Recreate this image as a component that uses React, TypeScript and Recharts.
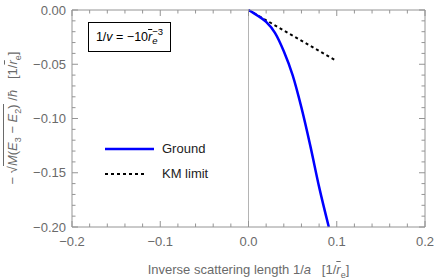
import React from "react";
import { LineChart, Line, XAxis, YAxis, ReferenceLine, Legend } from "recharts";

// Ground-state curve
const groundX = [0, 0.005, 0.01, 0.02, 0.03, 0.04, 0.05, 0.06, 0.07, 0.08, 0.091];
const groundY = [0, -0.0024, -0.005, -0.011, -0.021, -0.038, -0.06, -0.09, -0.125, -0.163, -0.2];

// KM limit (straight line)
const kmX = [0, 0.1];
const kmY = [0, -0.047];

const xMajorTicks = [-0.2, -0.1, 0, 0.1, 0.2];
const xTickLabels = ["−0.2", "−0.1", "0.0", "0.1", "0.2"];
const xMinorTicks = [
  -0.18, -0.16, -0.14, -0.12, -0.08, -0.06, -0.04, -0.02, 0.02, 0.04, 0.06, 0.08, 0.12, 0.14, 0.16, 0.18,
];

const yMajorTicks = [0, -0.05, -0.1, -0.15, -0.2];
const yTickLabels = ["0.00", "−0.05", "−0.10", "−0.15", "−0.20"];
const yMinorTicks = [
  -0.01, -0.02, -0.03, -0.04, -0.06, -0.07, -0.08, -0.09, -0.11, -0.12, -0.13, -0.14, -0.16, -0.17, -0.18, -0.19,
];

const seriesNames = ["Ground", "KM limit"];

const groundData = groundX.map((x, i) => ({ x, y: groundY[i] }));
const kmData = kmX.map((x, i) => ({ x, y: kmY[i] }));

const W = 436;
const H = 280;
// top/right axes take 1px each, so the plot spans 72..425 x 10..227
const margin = { top: 9, right: 10, left: 0, bottom: 0 };
const plotTop = 10;
const plotRight = 425;

const frameColor = "#949494";
const labelColor = "#6a6a6a";
const fontFamily = "'Liberation Sans', Arial, sans-serif";
const MAJOR = 6;
const MINOR = 3.5;

const allX = [...xMajorTicks, ...xMinorTicks].sort((a, b) => a - b);
const allY = [...yMajorTicks, ...yMinorTicks].sort((a, b) => a - b);

function majorIndex(list: number[], v: number) {
  return list.findIndex((t) => Math.abs(t - v) < 1e-9);
}

// bottom ticks (inward) + matching ticks on the top frame edge
function BottomTick(props: any) {
  const { x, y, payload } = props;
  const i = majorIndex(xMajorTicks, payload.value);
  const len = i >= 0 ? MAJOR : MINOR;
  return (
    <g>
      <line x1={x} x2={x} y1={y} y2={y - len} stroke={frameColor} strokeWidth={1} />
      <line x1={x} x2={x} y1={plotTop} y2={plotTop + len} stroke={frameColor} strokeWidth={1} />
      {i >= 0 && (
        <text x={x} y={y + 19} textAnchor="middle" fill={labelColor} fontSize={13} fontFamily={fontFamily}>
          {xTickLabels[i]}
        </text>
      )}
    </g>
  );
}

// left ticks (inward) + matching ticks on the right frame edge
function LeftTick(props: any) {
  const { x, y, payload } = props;
  const i = majorIndex(yMajorTicks, payload.value);
  const len = i >= 0 ? MAJOR : MINOR;
  return (
    <g>
      <line x1={x} x2={x + len} y1={y} y2={y} stroke={frameColor} strokeWidth={1} />
      <line x1={plotRight} x2={plotRight - len} y1={y} y2={y} stroke={frameColor} strokeWidth={1} />
      {i >= 0 && (
        <text x={x - 6} y={y} dy="0.36em" textAnchor="end" fill={labelColor} fontSize={13} fontFamily={fontFamily}>
          {yTickLabels[i]}
        </text>
      )}
    </g>
  );
}

const legendStyle: Record<string, { color: string; dash?: string; len: number; w: number }> = {
  Ground: { color: "#0000ff", len: 49, w: 2.5 },
  "KM limit": { color: "#000000", dash: "3 3", len: 42, w: 2 },
};

function renderLegend(props: any) {
  const items: any[] = props.payload ?? [];
  return (
    <div style={{ fontFamily, fontSize: 13, color: "#222" }}>
      {items.map((entry) => {
        const s = legendStyle[entry.value] ?? legendStyle.Ground;
        return (
          <div key={entry.value} style={{ display: "flex", alignItems: "center", height: 25 }}>
            <svg width={57} height={10}>
              <line x1={0} x2={s.len} y1={5} y2={5} stroke={s.color} strokeWidth={s.w} strokeDasharray={s.dash} />
            </svg>
            <span>{entry.value}</span>
          </div>
        );
      })}
    </div>
  );
}

const rbar = <span style={{ textDecoration: "overline", fontStyle: "italic" }}>r</span>;

export default function App() {
  return (
    <div style={{ position: "absolute", left: 0, top: 0, width: W, height: H, background: "#fff", fontFamily }}>
      <LineChart width={W} height={H} margin={margin}>
        <XAxis
          dataKey="x"
          type="number"
          domain={[-0.2, 0.2]}
          ticks={allX}
          interval={0}
          height={53}
          tickSize={0}
          tickMargin={0}
          stroke={frameColor}
          tick={<BottomTick />}
        />
        <XAxis
          xAxisId="top"
          orientation="top"
          dataKey="x"
          type="number"
          domain={[-0.2, 0.2]}
          ticks={xMajorTicks}
          height={1}
          tick={false}
          tickLine={false}
          stroke={frameColor}
        />
        <YAxis
          type="number"
          domain={[-0.2, 0]}
          ticks={allY}
          interval={0}
          width={72}
          tickSize={0}
          tickMargin={0}
          stroke={frameColor}
          tick={<LeftTick />}
        />
        <YAxis
          yAxisId="right"
          orientation="right"
          type="number"
          domain={[-0.2, 0]}
          ticks={yMajorTicks}
          width={1}
          tick={false}
          tickLine={false}
          stroke={frameColor}
        />
        <ReferenceLine x={0} stroke="#b4b4b4" strokeWidth={1} />
        <Legend
          layout="vertical"
          align="center"
          verticalAlign="middle"
          content={renderLegend}
          wrapperStyle={{ left: 105, top: 136, width: "auto", bottom: "auto", right: "auto" }}
        />
        <Line
          data={kmData}
          dataKey="y"
          name={seriesNames[1]}
          type="linear"
          stroke="#000"
          strokeWidth={2}
          strokeDasharray="3 3"
          dot={false}
          isAnimationActive={false}
        />
        <Line
          data={groundData}
          dataKey="y"
          name={seriesNames[0]}
          type="monotone"
          stroke="#0000ff"
          strokeWidth={2.5}
          dot={false}
          isAnimationActive={false}
        />
      </LineChart>

      {/* inset parameter box */}
      <div
        style={{
          position: "absolute",
          left: 88,
          top: 22,
          width: 83,
          height: 30,
          boxSizing: "border-box",
          border: "1.5px solid #000",
          display: "flex",
          alignItems: "center",
          justifyContent: "center",
          fontSize: 12.5,
          color: "#000",
          whiteSpace: "nowrap",
        }}
      >
        1/<i>v</i>&nbsp;=&nbsp;−10{rbar}
        <span style={{ display: "inline-flex", flexDirection: "column", fontSize: 9.5, lineHeight: "9px", marginTop: -2 }}>
          <span>−3</span>
          <i>e</i>
        </span>
      </div>

      {/* y-axis title */}
      <div
        style={{
          position: "absolute",
          left: 13 - 110,
          top: 118 - 10,
          width: 220,
          height: 20,
          lineHeight: "20px",
          textAlign: "center",
          transform: "rotate(-90deg)",
          fontSize: 13,
          color: labelColor,
          whiteSpace: "nowrap",
        }}
      >
        −&nbsp;√<span style={{ borderTop: `1px solid ${labelColor}`, paddingTop: 1 }}>
          <i>M</i>(<i>E</i>
          <sub style={{ fontSize: 9 }}>3</sub> − <i>E</i>
          <sub style={{ fontSize: 9 }}>2</sub>)
        </span>
        &nbsp;/<i>ħ</i>&nbsp;&nbsp;&nbsp;[1/{rbar}
        <sub style={{ fontSize: 9 }}>e</sub>]
      </div>

      {/* x-axis title */}
      <div
        style={{
          position: "absolute",
          left: 0,
          top: 262,
          width: 497,
          textAlign: "center",
          fontSize: 13,
          color: labelColor,
          whiteSpace: "nowrap",
        }}
      >
        Inverse scattering length 1/<i>a</i>&nbsp;&nbsp;&nbsp;[1/{rbar}
        <sub style={{ fontSize: 9 }}>e</sub>]
      </div>
    </div>
  );
}
